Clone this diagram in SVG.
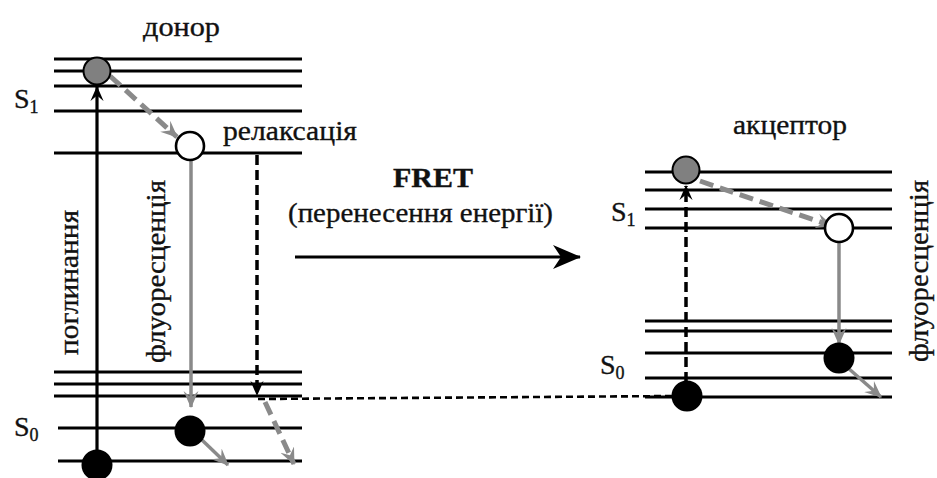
<svg xmlns="http://www.w3.org/2000/svg" width="937" height="478" viewBox="0 0 937 478">
<defs>
<style>
.lvl{stroke:#000;stroke-width:2.8;fill:none}
.t{font-family:"Liberation Serif","Times New Roman",serif;fill:#111;stroke:#111;stroke-width:0.35;font-size:28px}
.b{font-weight:bold}
.g{stroke:#8a8a8a;stroke-width:3.5;fill:none}
.gd{stroke:#8a8a8a;stroke-width:5;fill:none;stroke-dasharray:14 7}
.kd{stroke:#000;stroke-width:3.5;fill:none;stroke-dasharray:10 5}
.hd{stroke:#000;stroke-width:2.6;fill:none;stroke-dasharray:7 4}
.k{stroke:#000;stroke-width:3.2;fill:none}
</style>
<marker id="ag" viewBox="0 0 16 16" refX="15" refY="8" markerWidth="17" markerHeight="17" markerUnits="userSpaceOnUse" orient="auto">
<path d="M0,1 L16,8 L0,15 L6,8 Z" fill="#8a8a8a"/>
</marker>
<marker id="ak" viewBox="0 0 16 16" refX="15" refY="8" markerWidth="15" markerHeight="15" markerUnits="userSpaceOnUse" orient="auto">
<path d="M0,1 L16,8 L0,15 L6,8 Z" fill="#000"/>
</marker>
<marker id="abig" viewBox="0 0 28 24" refX="27" refY="12" markerWidth="28" markerHeight="24" markerUnits="userSpaceOnUse" orient="auto">
<path d="M0,0 L28,12 L0,24 L8,12 Z" fill="#000"/>
</marker>
</defs>
<rect width="937" height="478" fill="#fff"/>

<g id="donor-levels">
<line class="lvl" x1="54" y1="59" x2="302" y2="59"/>
<line class="lvl" x1="54" y1="71" x2="302" y2="71"/>
<line class="lvl" x1="54" y1="86" x2="302" y2="86"/>
<line class="lvl" x1="54" y1="111" x2="302" y2="111"/>
<line class="lvl" x1="54" y1="153" x2="302" y2="153"/>
<line class="lvl" x1="54" y1="372" x2="302" y2="372"/>
<line class="lvl" x1="54" y1="384" x2="302" y2="384"/>
<line class="lvl" x1="54" y1="396" x2="302" y2="396"/>
<line class="lvl" x1="58" y1="428" x2="302" y2="428"/>
<line class="lvl" x1="58" y1="461" x2="302" y2="461"/>
</g>

<g id="acceptor-levels">
<line class="lvl" x1="645" y1="172" x2="892" y2="172"/>
<line class="lvl" x1="645" y1="190" x2="892" y2="190"/>
<line class="lvl" x1="645" y1="209" x2="892" y2="209"/>
<line class="lvl" x1="645" y1="228" x2="892" y2="228"/>
<line class="lvl" x1="645" y1="321" x2="892" y2="321"/>
<line class="lvl" x1="645" y1="331" x2="892" y2="331"/>
<line class="lvl" x1="645" y1="353" x2="892" y2="353"/>
<line class="lvl" x1="645" y1="378" x2="892" y2="378"/>
<line class="lvl" x1="645" y1="397" x2="892" y2="397"/>
</g>

<g id="connectors">
<line class="k" x1="97" y1="462" x2="97" y2="87" marker-end="url(#ak)"/>
<line class="gd" x1="110" y1="76" x2="177" y2="137" marker-end="url(#ag)"/>
<line class="g" x1="191" y1="160" x2="191" y2="407" marker-end="url(#ag)"/>
<line class="kd" x1="257" y1="155" x2="257" y2="395" marker-end="url(#ak)"/>
<polyline class="hd" points="258,399 675,396"/>
<line class="g" x1="202" y1="440" x2="228" y2="465" marker-end="url(#ag)"/>
<line class="gd" x1="265" y1="402" x2="294" y2="464" stroke-dasharray="14 5 60" marker-end="url(#ag)"/>
<line class="k" x1="295" y1="257" x2="580" y2="257" marker-end="url(#abig)"/>
<line class="kd" x1="686" y1="382" x2="686" y2="186" marker-end="url(#ak)"/>
<line class="gd" x1="700" y1="181" x2="832" y2="226" marker-end="url(#ag)"/>
<line class="g" x1="839" y1="242" x2="839" y2="344" marker-end="url(#ag)"/>
<line class="g" x1="848" y1="368" x2="881" y2="397" marker-end="url(#ag)"/>
</g>

<g id="donor-states">
<circle cx="97" cy="71" r="13.5" fill="#808080" stroke="#000" stroke-width="2"/>
<circle cx="190" cy="146" r="14" fill="#fff" stroke="#000" stroke-width="2.6"/>
<circle cx="190" cy="431" r="15.5" fill="#000"/>
<circle cx="97" cy="465" r="15.5" fill="#000"/>
</g>

<g id="acceptor-states">
<circle cx="686" cy="170" r="13.5" fill="#808080" stroke="#000" stroke-width="2"/>
<circle cx="839" cy="228" r="14" fill="#fff" stroke="#000" stroke-width="2.6"/>
<circle cx="839" cy="358" r="15.5" fill="#000"/>
<circle cx="687" cy="396" r="15.5" fill="#000"/>
</g>

<g id="labels">
<text class="t" x="143" y="36" textLength="77" lengthAdjust="spacingAndGlyphs">донор</text>
<text class="t" x="14" y="108">S<tspan font-size="18" dy="5">1</tspan></text>
<text class="t" x="14" y="436">S<tspan font-size="18" dy="5">0</tspan></text>
<text class="t" x="223" y="140" textLength="134" lengthAdjust="spacingAndGlyphs">релаксація</text>
<text class="t" x="78" y="355" transform="rotate(-90 78 355)" textLength="145" lengthAdjust="spacingAndGlyphs">поглинання</text>
<text class="t" x="165" y="363" transform="rotate(-90 165 363)" textLength="183" lengthAdjust="spacingAndGlyphs">флуоресценція</text>
<text class="t b" x="393" y="187" textLength="80" lengthAdjust="spacingAndGlyphs">FRET</text>
<text class="t" x="288" y="222" textLength="265" lengthAdjust="spacingAndGlyphs">(перенесення енергії)</text>
<text class="t" x="733" y="134" textLength="114" lengthAdjust="spacingAndGlyphs">акцептор</text>
<text class="t" x="611" y="221">S<tspan font-size="18" dy="5">1</tspan></text>
<text class="t" x="600" y="374">S<tspan font-size="18" dy="5">0</tspan></text>
<text class="t" x="928" y="362" transform="rotate(-90 928 362)" textLength="182" lengthAdjust="spacingAndGlyphs">флуоресценція</text>
</g>
</svg>
